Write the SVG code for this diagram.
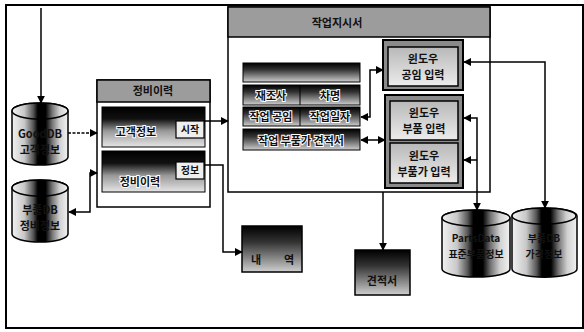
<svg xmlns="http://www.w3.org/2000/svg" width="584" height="332" viewBox="0 0 584 332">
<defs>
<linearGradient id="cyl" x1="0" y1="0" x2="1" y2="0">
<stop offset="0" stop-color="#f2f2f2"/><stop offset="0.22" stop-color="#c8c8c8"/><stop offset="0.38" stop-color="#555"/><stop offset="0.46" stop-color="#000"/><stop offset="0.6" stop-color="#000"/><stop offset="0.72" stop-color="#777"/><stop offset="0.85" stop-color="#d0d0d0"/><stop offset="1" stop-color="#f2f2f2"/>
</linearGradient>
<linearGradient id="band" x1="0" y1="0" x2="0" y2="1">
<stop offset="0" stop-color="#000"/><stop offset="0.3" stop-color="#111"/><stop offset="0.6" stop-color="#999"/><stop offset="1" stop-color="#e6e6e6"/>
</linearGradient>
<linearGradient id="row" x1="0" y1="0" x2="0" y2="1">
<stop offset="0" stop-color="#000"/><stop offset="0.35" stop-color="#333"/><stop offset="1" stop-color="#cfcfcf"/>
</linearGradient>
<linearGradient id="inner" x1="0" y1="0" x2="0" y2="1">
<stop offset="0" stop-color="#b8b8b8"/><stop offset="1" stop-color="#ececec"/>
</linearGradient>
<marker id="ah" viewBox="0 0 10 10" refX="9" refY="5" markerWidth="8" markerHeight="8" markerUnits="userSpaceOnUse" orient="auto-start-reverse">
<path d="M0,0 L10,5 L0,10 z" fill="#000"/>
</marker>
<style>
.frame{fill:none;stroke:#000;stroke-width:2}
.cyl{fill:url(#cyl);stroke:#000;stroke-width:1.5}
.bar{fill:#9c9c9c;stroke:#000;stroke-width:1.5}
.panel{fill:#fff;stroke:#000;stroke-width:1.5}
.band{fill:url(#band);stroke:#000;stroke-width:1}
.row{fill:url(#row);stroke:#000;stroke-width:1}
.tag{fill:#eee;stroke:#000;stroke-width:1.2}
.outer{fill:#8a8a8a;stroke:#000;stroke-width:2}
.inner{fill:url(#inner);stroke:#000;stroke-width:1.5}
text{font-family:"Noto Sans CJK KR","Noto Sans",sans-serif;font-weight:bold;font-size:11px;fill:#111;text-anchor:middle}
.halo{stroke:#fff;stroke-width:2;paint-order:stroke}
.small{font-size:10px}
.conn path{fill:none;stroke:#000;stroke-width:1.5}
</style>
</defs>
<rect class="frame" x="6" y="5" width="577" height="323"/>

<g id="cyl-left-1">
<path class="cyl" d="M12,111 V157 A28,8 0 0 0 68,157 V111 A28,8 0 0 0 12,111 Z"/>
<ellipse class="cyl" cx="40" cy="111" rx="28" ry="8"/>
<text x="40" y="138">GoodDB</text>
<text x="40" y="154">고객정보</text>
</g>
<g id="cyl-left-2">
<path class="cyl" d="M12,188 V234 A28,8 0 0 0 68,234 V188 A28,8 0 0 0 12,188 Z"/>
<ellipse class="cyl" cx="40" cy="188" rx="28" ry="8"/>
<text x="40" y="214">부품DB</text>
<text x="40" y="230">정비정보</text>
</g>

<g id="panel-maint">
<rect class="panel" x="97" y="80" width="113" height="127"/>
<rect class="bar" x="97" y="80" width="113" height="22"/>
<text x="153" y="95">정비이력</text>
<rect class="band" x="102" y="107" width="103" height="40"/>
<text class="halo" x="136" y="136">고객정보</text>
<rect class="tag" x="176" y="121" width="28" height="17"/>
<text class="small" x="190" y="133">시작</text>
<rect class="band" x="102" y="151" width="103" height="41"/>
<text class="halo" x="140" y="186">정비이력</text>
<rect class="tag" x="176" y="162" width="28" height="17"/>
<text class="small" x="190" y="174">정보</text>
</g>

<g id="panel-order">
<rect class="panel" x="228" y="7" width="262" height="185"/>
<rect class="bar" x="228" y="7" width="262" height="30"/>
<text x="337" y="27">작업지시서</text>
</g>

<g id="table">
<rect class="row" x="243" y="63" width="117" height="19"/>
<rect class="row" x="243" y="85" width="117" height="20"/>
<line x1="300" y1="85" x2="300" y2="105" stroke="#000"/>
<text class="halo" x="271" y="100">재조사</text>
<text class="halo" x="330" y="100">차명</text>
<rect class="row" x="243" y="107" width="117" height="19"/>
<line x1="300" y1="107" x2="300" y2="126" stroke="#000"/>
<text class="halo" x="271" y="121">작업 공임</text>
<text class="halo" x="330" y="121">작업일자</text>
<rect class="row" x="243" y="129" width="117" height="21"/>
<text class="halo" x="301" y="145">작업 부품가 견적서</text>
</g>

<g id="box-labor">
<rect class="outer" x="383" y="40" width="80" height="50"/>
<rect class="inner" x="388" y="47" width="70" height="39"/>
<text x="423" y="63">윈도우</text>
<text x="423" y="79">공임 입력</text>
</g>
<g id="box-parts">
<rect class="outer" x="385" y="95" width="78" height="93"/>
<rect class="inner" x="390" y="101" width="68" height="39"/>
<text x="424" y="117">윈도우</text>
<text x="424" y="133">부품 입력</text>
</g>
<g id="box-price">
<rect class="inner" x="390" y="143" width="68" height="40"/>
<text x="424" y="160">윈도우</text>
<text x="424" y="176">부품가 입력</text>
</g>

<g id="box-history">
<rect fill="url(#row)" stroke="#000" stroke-width="1.5" x="242" y="226" width="60" height="46"/>
<text x="256 289" y="264">내역</text>
</g>
<g id="box-estimate">
<rect fill="url(#row)" stroke="#000" stroke-width="1.5" x="355" y="250" width="55" height="45"/>
<text x="382" y="285" fill="#333">견적서</text>
</g>

<g id="cyl-right-1">
<path class="cyl" d="M442,218 V269 A34,8 0 0 0 510,269 V218 A34,8 0 0 0 442,218 Z"/>
<ellipse class="cyl" cx="476" cy="218" rx="34" ry="8"/>
<text class="small" x="476" y="242">PartsData</text>
<text class="small" x="476" y="258">표준부품정보</text>
</g>
<g id="cyl-right-2">
<path class="cyl" d="M512,216 V269 A32,8 0 0 0 577,269 V216 A32,8 0 0 0 512,216 Z"/>
<ellipse class="cyl" cx="544" cy="216" rx="32" ry="8"/>
<text class="small" x="544" y="242">부품DB</text>
<text class="small" x="544" y="258">가격정보</text>
</g>

<g id="connectors" class="conn">
<path d="M41,8 V103" marker-end="url(#ah)"/>
<path d="M68,133 H97" stroke-dasharray="3,1.5" marker-end="url(#ah)"/>
<path d="M97,173 H90 V212 H69" marker-start="url(#ah)" marker-end="url(#ah)"/>
<path d="M204,121 H228" marker-end="url(#ah)"/>
<path d="M204,165 H223 V252 H242" marker-end="url(#ah)"/>
<path d="M361,117 H370 V70 H383" marker-start="url(#ah)" marker-end="url(#ah)"/>
<path d="M361,140 H385" marker-start="url(#ah)" marker-end="url(#ah)"/>
<path d="M464,62 H545 V208" marker-start="url(#ah)" marker-end="url(#ah)"/>
<path d="M464,118 H477 V210" marker-start="url(#ah)" marker-end="url(#ah)"/>
<path d="M464,160 H477" marker-start="url(#ah)"/>
<path d="M383,192 V250" marker-end="url(#ah)"/>
</g>
</svg>
